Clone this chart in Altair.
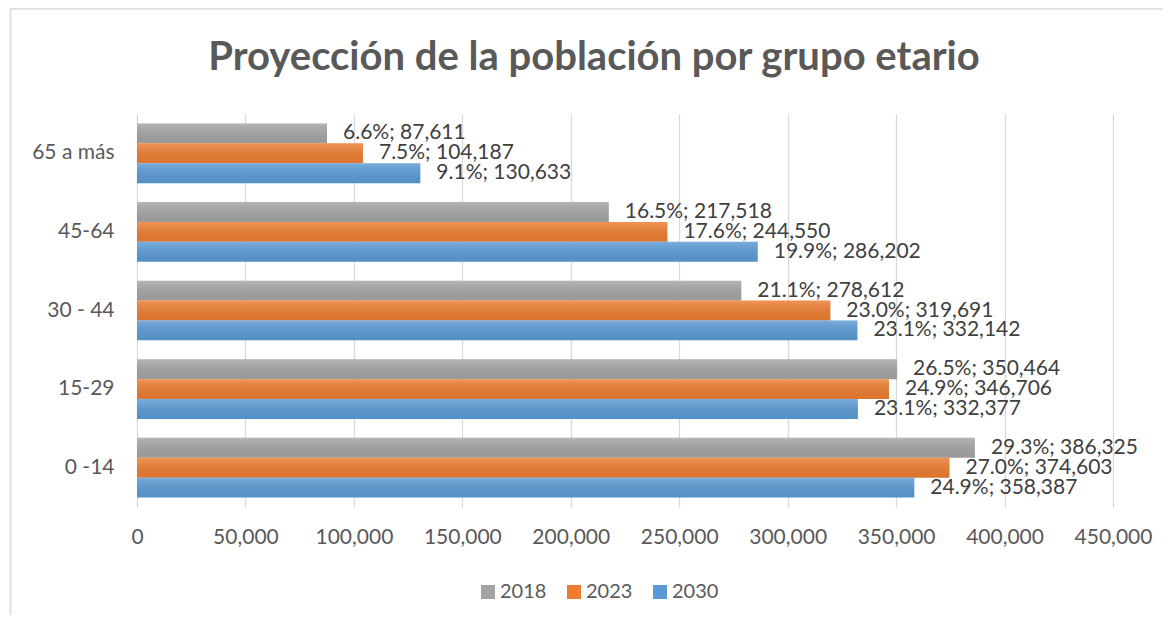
import altair as alt
import pandas as pd

groups = ["65 a más", "45-64", "30 - 44", "15-29", "0 -14"]
years = ["2018", "2023", "2030"]
values_2018 = [87611, 217518, 278612, 350464, 386325]
values_2023 = [104187, 244550, 319691, 346706, 374603]
values_2030 = [130633, 286202, 332142, 332377, 358387]
pct_2018 = [6.6, 16.5, 21.1, 26.5, 29.3]
pct_2023 = [7.5, 17.6, 23.0, 24.9, 27.0]
pct_2030 = [9.1, 19.9, 23.1, 23.1, 24.9]
x_ticks = [0, 50000, 100000, 150000, 200000, 250000, 300000, 350000, 400000, 450000]
colors = ["#A5A5A5", "#ED7D31", "#5B9BD5"]
title_text = "Proyección de la población por grupo etario"

rows = []
for yr, vals, pcts in zip(years, [values_2018, values_2023, values_2030], [pct_2018, pct_2023, pct_2030]):
    for g, v, p in zip(groups, vals, pcts):
        rows.append({"grupo": g, "anio": yr, "valor": v, "label": f"{p:.1f}%; {v:,}"})
df = pd.DataFrame(rows)

FONT = "Lato"
FS = 21
W, H = 976, 393

y_enc = alt.Y("grupo:N", sort=groups, title=None,
              scale=alt.Scale(paddingInner=0.24, paddingOuter=0.12),
              axis=alt.Axis(domain=False, ticks=False, labelFontSize=FS, labelColor="#595959",
                            labelFont=FONT, labelPadding=23, grid=False))
yoff = alt.YOffset("anio:N", sort=years, scale=alt.Scale(paddingInner=0, paddingOuter=0))
x_enc = alt.X("valor:Q", title=None,
              scale=alt.Scale(domain=[0, 450000], nice=False),
              axis=alt.Axis(values=x_ticks, format=",d", grid=True, gridColor="#d9d9d9", gridWidth=1.3,
                            domain=False, ticks=False, labelFontSize=FS, labelColor="#595959",
                            labelFont=FONT, labelPadding=19, labelOverlap=False, labelFlush=False))

base = alt.Chart(df)

frame = alt.Chart(pd.DataFrame({"a": [1]})).mark_rect(
    fillOpacity=0, stroke="#d9d9d9", strokeWidth=1.5
).encode(x=alt.value(-126.5), x2=alt.value(1200), y=alt.value(-105), y2=alt.value(600))

bars = base.mark_bar().encode(
    y=y_enc, yOffset=yoff, x=x_enc,
    color=alt.Color("anio:N", sort=years, title=None,
                    scale=alt.Scale(domain=years, range=colors),
                    legend=alt.Legend(orient="none", legendX=341, legendY=468, direction="horizontal",
                                      symbolType="square", symbolSize=196, symbolStrokeWidth=0,
                                      labelFontSize=20, labelColor="#595959", labelFont=FONT,
                                      labelOffset=2, columnPadding=17)),
)

shade = base.mark_bar(
    color=alt.Gradient(
        gradient="linear",
        stops=[alt.GradientStop(color="rgba(255,255,255,0.18)", offset=0),
               alt.GradientStop(color="rgba(0,0,0,0.07)", offset=1)],
        x1=0, x2=0, y1=0, y2=1,
    )
).encode(y=y_enc, yOffset=yoff, x=x_enc)

labels = base.mark_text(align="left", baseline="middle", dx=16, fontSize=FS, font=FONT, color="#404040").encode(
    y=y_enc, yOffset=yoff, x=x_enc, text="label:N"
)

title = alt.Chart(pd.DataFrame({"t": [title_text]})).mark_text(
    align="center", baseline="alphabetic", fontSize=40, fontWeight="bold", font=FONT, color="#595959"
).encode(x=alt.value(457), y=alt.value(-44), text="t:N")

chart = alt.layer(frame, bars, shade, labels, title).properties(
    width=W, height=H,
    autosize=alt.AutoSizeParams(type="none"),
    padding={"left": 129, "top": 106, "right": 50, "bottom": 108},
).configure_view(stroke=None)

chart.save("out.html", embed_options={"renderer": "svg", "actions": False})
